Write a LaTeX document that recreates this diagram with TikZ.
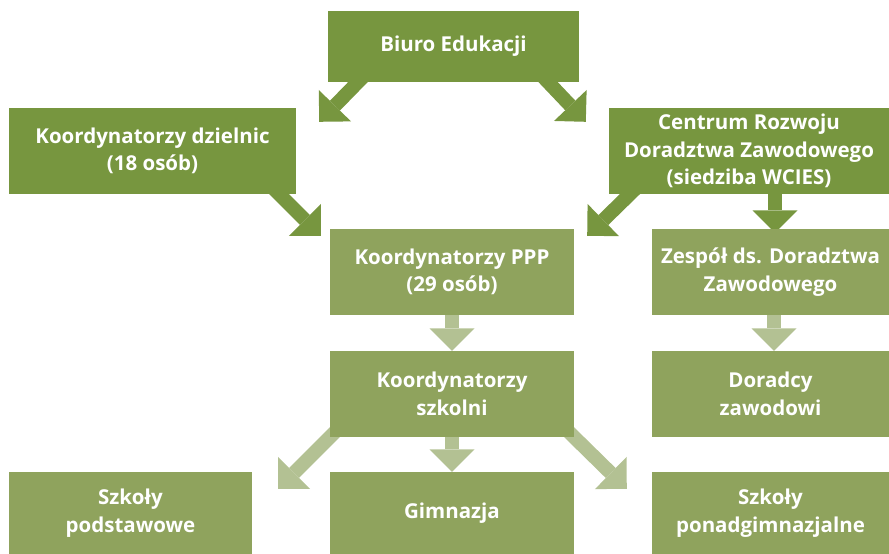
\documentclass[tikz,border=0pt]{standalone}
\usepackage{fontspec}
\setmainfont{Open Sans}
\usepackage{tikz}
\usetikzlibrary{arrows.meta, backgrounds}
\definecolor{darkgreen}{HTML}{77963F}
\definecolor{midgreen}{HTML}{8FA35D}
\definecolor{palegreen}{HTML}{B3C193}
\tikzset{
  box/.style={rectangle, inner sep=0pt, text=white, align=center,
    font=\bfseries\fontsize{20.5}{27.5}\selectfont},
  darkbox/.style={box, fill=darkgreen},
  lightbox/.style={box, fill=midgreen},
  bigarrow/.style={line width=14pt, shorten <=-10pt,
    -{Triangle[width=45pt, length=22.5pt, line width=0pt]}},
  darkarrow/.style={bigarrow, draw=darkgreen, fill=darkgreen},
  lightarrow/.style={bigarrow, draw=palegreen, fill=palegreen}
}

\begin{document}
\begin{tikzpicture}[x=1pt, y=-1pt]
 \useasboundingbox (0,0) rectangle (889,554);
 % boxes
 \node[darkbox, minimum width=251pt, minimum height=71pt] (biuro) at (453.5,46.5) {Biuro Edukacji};
 \node[darkbox, minimum width=287pt, minimum height=86pt] (dzielnice) at (152.5,151) {Koordynatorzy dzielnic\\(18 osób)};
 \node[darkbox, minimum width=280pt, minimum height=86pt] (centrum) at (749,151) {Centrum Rozwoju\\Doradztwa Zawodowego\\(siedziba WCIES)};
 \node[lightbox, minimum width=244pt, minimum height=86pt] (ppp) at (452,272) {Koordynatorzy PPP\\(29 osób)};
 \node[lightbox, minimum width=237pt, minimum height=86pt] (zespol) at (770.5,272) {Zespół ds. Doradztwa\\Zawodowego};
 \node[lightbox, minimum width=244pt, minimum height=86pt] (szkolni) at (452,394) {Koordynatorzy\\szkolni};
 \node[lightbox, minimum width=237pt, minimum height=86pt] (doradcy) at (770.5,394) {Doradcy\\zawodowi};
 \node[lightbox, minimum width=243pt, minimum height=82pt] (podst) at (130.5,513) {Szkoły\\podstawowe};
 \node[lightbox, minimum width=244pt, minimum height=82pt] (gimn) at (452,513) {Gimnazja};
 \node[lightbox, minimum width=237pt, minimum height=82pt] (ponad) at (770.5,513) {Szkoły\\ponadgimnazjalne};
 % arrows, behind the boxes
 \begin{scope}[on background layer]
 \draw[darkarrow] ([xshift=30pt]biuro.south west) -- ([shift={(23pt,-14pt)}]dzielnice.north east);
 \draw[darkarrow] ([xshift=-31pt]biuro.south east) -- ([shift={(-23pt,-14pt)}]centrum.north west);
 \draw[darkarrow] ([xshift=-17pt]dzielnice.south east) -- ([shift={(-9pt,-7pt)}]ppp.north west);
 \draw[darkarrow] ([xshift=21pt]centrum.south west) -- ([shift={(13pt,-7pt)}]ppp.north east);
 \draw[darkarrow] ([xshift=26pt]centrum.south) -- ([shift={(4.5pt,-4pt)}]zespol.north);
 \draw[lightarrow] (ppp.south) -- (szkolni.north);
 \draw[lightarrow] ([xshift=3.5pt]zespol.south) -- ([xshift=3.5pt]doradcy.north);
 \draw[lightarrow] (szkolni.south) -- (gimn.north);
 \draw[lightarrow] (szkolni.south west) -- ([shift={(26pt,-17pt)}]podst.north east);
 \draw[lightarrow] (szkolni.south east) -- ([shift={(-25pt,-17pt)}]ponad.north west);
 \end{scope}
\end{tikzpicture}
\end{document}
